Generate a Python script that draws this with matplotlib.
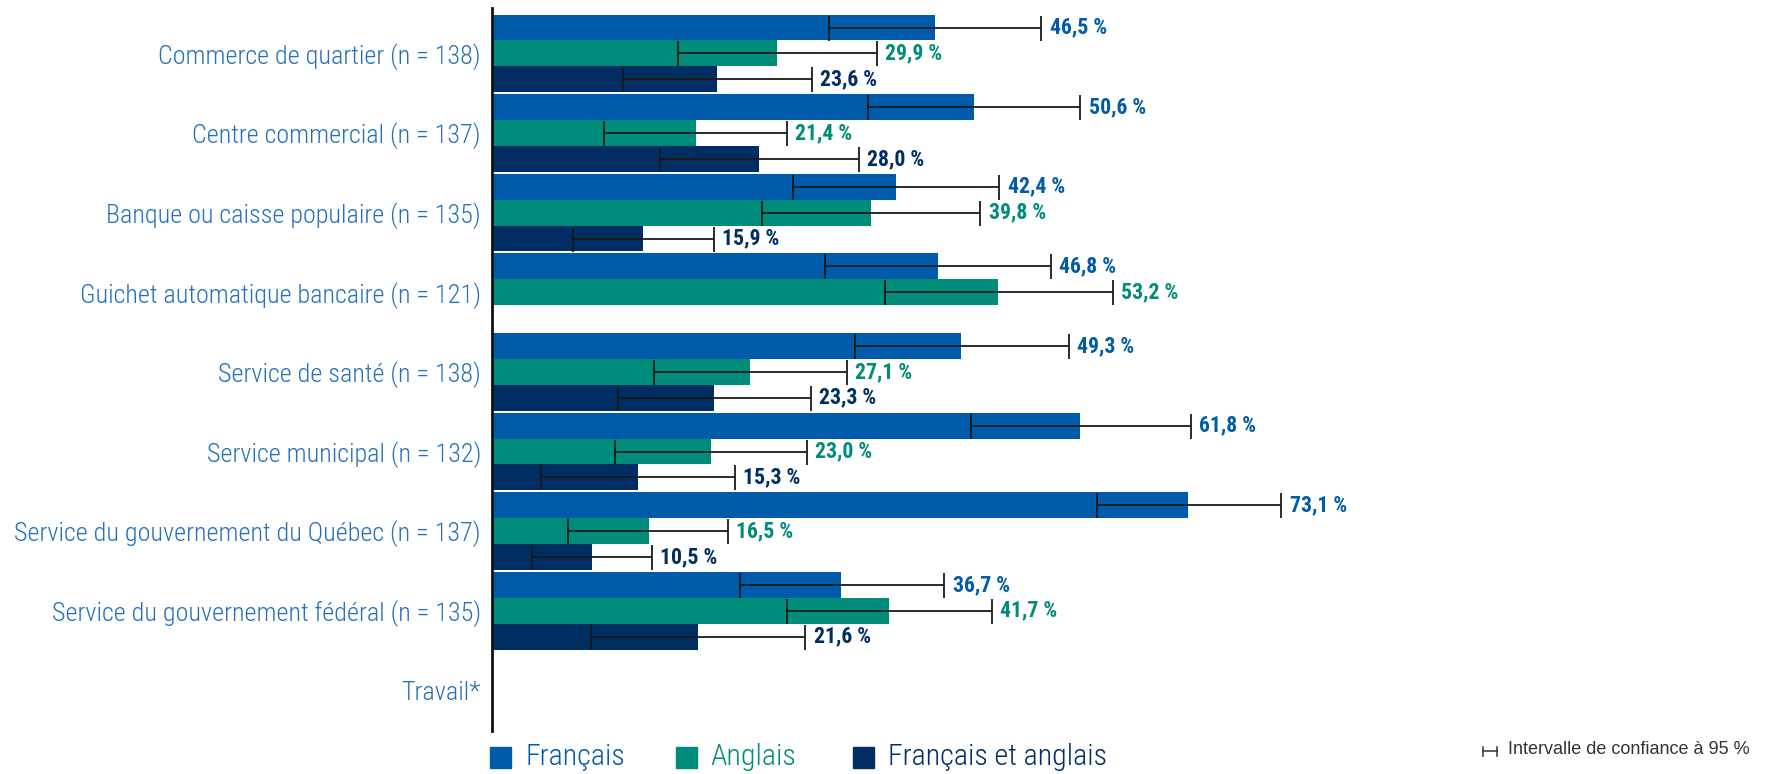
import numpy as np
import matplotlib
matplotlib.use("Agg")
import matplotlib.pyplot as plt
from matplotlib.patches import Rectangle
from matplotlib.lines import Line2D

nan = np.nan

categories = [
    "Commerce de quartier (n = 138)",
    "Centre commercial (n = 137)",
    "Banque ou caisse populaire (n = 135)",
    "Guichet automatique bancaire (n = 121)",
    "Service de santé (n = 138)",
    "Service municipal (n = 132)",
    "Service du gouvernement du Québec (n = 137)",
    "Service du gouvernement fédéral (n = 135)",
    "Travail*",
]

series_names = ["Français", "Anglais", "Français et anglais"]

francais = [46.5, 50.6, 42.4, 46.8, 49.3, 61.8, 73.1, 36.7, nan]
francais_low = [35.4, 39.5, 31.6, 35.0, 38.1, 50.3, 63.5, 26.0, nan]
francais_high = [57.7, 61.8, 53.3, 58.7, 60.6, 73.4, 82.9, 47.5, nan]

anglais = [29.9, 21.4, 39.8, 53.2, 27.1, 23.0, 16.5, 41.7, nan]
anglais_low = [19.5, 11.8, 28.4, 41.3, 17.0, 12.9, 8.0, 31.0, nan]
anglais_high = [40.4, 31.0, 51.3, 65.2, 37.3, 33.1, 24.8, 52.5, nan]

fr_en = [23.6, 28.0, 15.9, nan, 23.3, 15.3, 10.5, 21.6, nan]
fr_en_low = [13.8, 17.6, 8.5, nan, 13.2, 5.1, 4.2, 10.4, nan]
fr_en_high = [33.6, 38.5, 23.3, nan, 33.5, 25.5, 16.8, 32.9, nan]

colors = ["#005cab", "#008c7a", "#002d62"]
label_blue = "#2470ba"

narrow = ["Roboto Condensed", "Archivo Narrow", "Sofia Sans Condensed", "Liberation Sans"]

W, H = 1766, 774
fig = plt.figure(figsize=(W / 100, H / 100), dpi=100)
renderer = fig.canvas.get_renderer()


def fit_width(txt, target):
    # rescale a text so its rendered width is `target` pixels
    w = txt.get_window_extent(renderer).width
    txt.set_fontsize(txt.get_fontsize() * target / w)


ax = fig.add_axes([492 / W, 1 - 731 / H, (1444 - 492) / W, (731 - 8) / H])

y = np.arange(len(categories))
h = 0.325
data = [
    (francais, francais_low, francais_high),
    (anglais, anglais_low, anglais_high),
    (fr_en, fr_en_low, fr_en_high),
]

value_texts = []
for k, (vals, lo, hi) in enumerate(data):
    vals = np.array(vals)
    lo = np.array(lo)
    hi = np.array(hi)
    ok = ~np.isnan(vals)
    yy = y[ok] + (k - 1) * h
    ax.barh(yy, vals[ok], height=h, color=colors[k], zorder=2)
    ax.errorbar(vals[ok], yy, xerr=[vals[ok] - lo[ok], hi[ok] - vals[ok]],
                fmt="none", ecolor="#1a1a1a", elinewidth=1.3, capsize=9,
                capthick=1.3, zorder=3)
    for yi, v, top in zip(yy, vals[ok], hi[ok]):
        t = ax.annotate(f"{v:.1f} %".replace(".", ","), (top, yi),
                        xytext=(6, 0), textcoords="offset points",
                        ha="left", va="center", color=colors[k],
                        fontsize=13, fontweight="bold", family=narrow)
        value_texts.append(t)

ax.set_xlim(0, 100)
ax.set_ylim(len(categories) - 0.49, -0.57)
ax.set_yticks(y)
ax.set_yticklabels(categories, color=label_blue, fontsize=18,
                   family=narrow, fontweight="light")
ax.tick_params(axis="y", length=0, pad=8)
ax.set_xticks([])
for s in ["top", "right", "bottom"]:
    ax.spines[s].set_visible(False)
ax.spines["left"].set_linewidth(2)
ax.spines["left"].set_color("#111111")

# size the fonts from the widths of a reference string of each kind
ticks = ax.get_yticklabels()
ref = ticks[6]
fit_width(ref, 467)
for t in ticks:
    t.set_fontsize(ref.get_fontsize())
fit_width(value_texts[0], 57)
for t in value_texts:
    t.set_fontsize(value_texts[0].get_fontsize())

# legende
leg_y = 757
leg_texts = []
for name, c, xs, xt in zip(series_names, colors, [490, 676, 853], [525, 710, 888]):
    fig.add_artist(Rectangle((xs / W, 1 - (leg_y + 10.5) / H), 21 / W, 21 / H,
                             transform=fig.transFigure, color=c))
    lt = fig.text(xt / W, 1 - leg_y / H, name, ha="left", va="center",
                  color=c, fontsize=18, family=narrow, fontweight="light")
    leg_texts.append(lt)
fit_width(leg_texts[-1], 219)
for t in leg_texts:
    t.set_fontsize(leg_texts[-1].get_fontsize())

# intervalle de confiance
yc = 1 - 751 / H
x0, x1 = 1483 / W, 1497 / W
fig.add_artist(Line2D([x0, x1], [yc, yc], color="#333333", lw=1.1))
for xx in (x0, x1):
    fig.add_artist(Line2D([xx, xx], [yc - 4.5 / H, yc + 4.5 / H],
                          color="#333333", lw=1.1))
fig.text(1508 / W, 1 - 750 / H, "Intervalle de confiance à 95 %", ha="left",
         va="center", color="#333333", fontsize=13,
         family=["Liberation Sans", "DejaVu Sans"])

fig.savefig("out.png", dpi=100)
